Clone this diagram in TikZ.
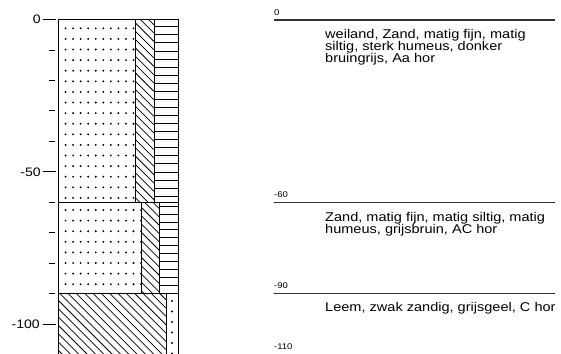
\documentclass[tikz,border=0pt]{standalone}
\usepackage{fontspec}
\setmainfont{Liberation Sans}
\newfontfamily\widesans[FakeStretch=1.145]{Liberation Sans}

\tikzset{
  boxline/.style={line width=0.9bp, black},
  hatchline/.style={line width=0.75bp, black},
  horline/.style={line width=0.8bp, black},
  sandDot/.style={fill=black},
  tickline/.style={line width=0.9bp, black},
  depthlabel/.style={font=\widesans\fontsize{12.3bp}{14bp}\selectfont, inner sep=0pt, anchor=east},
  smalldepth/.style={font=\widesans\fontsize{8.3bp}{9bp}\selectfont, inner sep=0pt, anchor=base west},
  layertext/.style={font=\widesans\fontsize{12.7bp}{12.3bp}\selectfont, inner sep=0pt, anchor=north west, align=left},
  boundary/.style={line width=1.2bp, black!80},
}

\begin{document}
\begin{tikzpicture}[x=1bp,y=-1bp]
\useasboundingbox (0,0) rectangle (561,353);

% depth scale: y = 19.5 + 3.047 * depth
\def\yA{19.5}    % 0 cm
\def\yB{202.3}   % 60 cm
\def\yC{293.7}   % 90 cm
\def\yD{353}     % lower edge
\def\xL{58}
\def\xR{178.5}

% ---- layer 1: sand, 0-60 ----
\begin{scope}
  \clip (\xL,\yA) rectangle (135.5,\yB);
  \foreach \i in {0,...,10}
    \foreach \j in {0,...,16}
      \fill[sandDot] ({\xL+7.55*\i},{28.3+10.6*\j}) circle (1.05);
\end{scope}
\begin{scope}
  \clip (135.5,\yA) rectangle (154,\yB);
  \foreach \k in {0,...,25}
    \draw[hatchline] (135.5,{-2+8.33*\k}) -- (154,{-2+18.5+8.33*\k});
\end{scope}
\foreach \k in {0,...,21}
  \draw[horline] (154,{26.7+8.07*\k}) -- (\xR,{26.7+8.07*\k});
\draw[boxline] (\xL,\yA) rectangle (135.5,\yB);
\draw[boxline] (135.5,\yA) rectangle (154,\yB);
\draw[boxline] (154,\yA) rectangle (\xR,\yB);

% ---- layer 2: sand, 60-90 ----
\begin{scope}
  \clip (\xL,\yB) rectangle (141,\yC);
  \foreach \i in {0,...,11}
    \foreach \j in {0,...,7}
      \fill[sandDot] ({\xL+7.55*\i},{210+10.6*\j}) circle (1.05);
\end{scope}
\begin{scope}
  \clip (141,\yB) rectangle (159.5,\yC);
  \foreach \k in {0,...,13}
    \draw[hatchline] (141,{182+8.33*\k}) -- (159.5,{182+18.5+8.33*\k});
\end{scope}
\foreach \k in {0,...,10}
  \draw[horline] (159.5,{206+7.95*\k}) -- (\xR,{206+7.95*\k});
\draw[boxline] (\xL,\yB) rectangle (141,\yC);
\draw[boxline] (141,\yB) rectangle (159.5,\yC);
\draw[boxline] (159.5,\yB) rectangle (\xR,\yC);

% ---- layer 3: loam, 90-110 ----
\begin{scope}
  \clip (\xL,\yC) rectangle (166,\yD);
  \foreach \k in {0,...,21}
    \draw[hatchline] (\xL,{183.4+8.33*\k}) -- (166,{183.4+108+8.33*\k});
\end{scope}
\begin{scope}
  \clip (166,\yC) rectangle (\xR,\yD);
  \foreach \j in {0,...,5}
    \fill[sandDot] (172,{301+10.5*\j}) circle (1.05);
\end{scope}
\draw[boxline] (\xL,\yD+2) -- (\xL,\yC) -- (\xR,\yC) -- (\xR,\yD+2);
\draw[boxline] (166,\yC) -- (166,\yD+2);

% ---- depth axis ----
\foreach \d in {10,20,30,40,60,70,80,90}
  \draw[tickline] (49,{19.5+3.047*\d}) -- (55,{19.5+3.047*\d});
\foreach \d in {0,50,100}
  \draw[tickline] (43,{19.5+3.047*\d}) -- (55.5,{19.5+3.047*\d});
\node[depthlabel] (t0)   at (41,{19.5}) {0};
\node[depthlabel] (t50)  at (41,{19.5+3.047*50}) {-50};
\node[depthlabel] (t100) at (40,{19.5+3.047*100}) {-100};

% ---- layer descriptions ----
\draw[boundary] (274,20) -- (555,20);
\draw[boundary] (274,202.7) -- (555,202.7);
\draw[boundary] (274,293.3) -- (555,293.3);
\node[smalldepth] (d0)   at (274,15)    {0};
\node[smalldepth] (d60)  at (274,197.7) {-60};
\node[smalldepth] (d90)  at (274,288.3) {-90};
\node[smalldepth] (d110) at (274,349.7) {-110};

\node[layertext] (h1) at (325,28.6)
  {weiland, Zand, matig fijn, matig\\siltig, sterk humeus, donker\\bruingrijs, Aa hor};
\node[layertext] (h2) at (325,211.6)
  {Zand, matig fijn, matig siltig, matig\\humeus, grijsbruin, AC hor};
\node[layertext] (h3) at (325,302.2)
  {Leem, zwak zandig, grijsgeel, C hor};
\end{tikzpicture}
\end{document}
